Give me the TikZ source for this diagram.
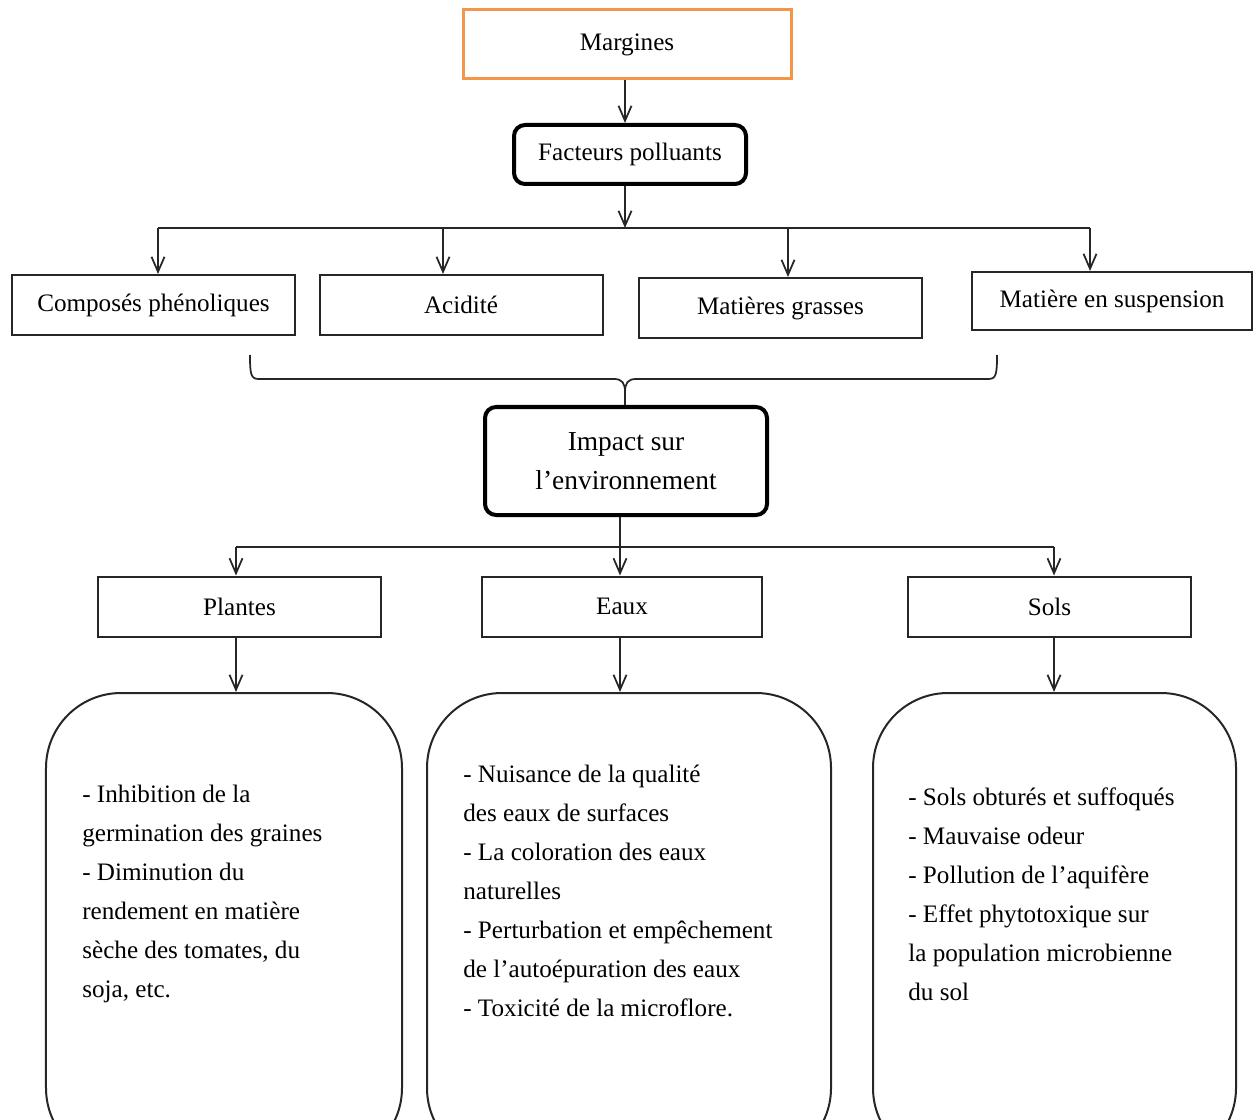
\documentclass[tikz,border=0pt]{standalone}
\usepackage{fontspec}
\setmainfont{Liberation Serif}
\usetikzlibrary{arrows.meta}
\definecolor{orng}{RGB}{244,150,72}
\begin{document}
\begin{tikzpicture}
[
 x=0.2mm, y=-0.2mm,
 font=\fontsize{14.3}{22.2}\selectfont,
 inner sep=0mm,
 ORBOX/.style={rectangle, draw=orng, line width=0.6mm, minimum width=65.6mm, minimum height=13.8mm},
 RBOX/.style={rectangle, rounded corners=2.2mm, draw=black, line width=0.8mm},
 BOX/.style={rectangle, draw=black!85, line width=0.4mm, minimum width=56.6mm, minimum height=12mm},
 BIGBOX/.style={rectangle, rounded corners=15mm, draw=black!85, line width=0.4mm, minimum height=94mm, anchor=north},
 TXT/.style={align=left, anchor=north west},
 ARR/.style={-{Straight Barb[length=3mm,width=2.6mm]}, line width=0.35mm, draw=black!85},
 LINE/.style={line width=0.35mm, draw=black!85},
 ]
\useasboundingbox (0,0) rectangle (1255,1119);
%
\node [ORBOX]  (MARG)  at ( 627, 44.5)  {Margines};
\node [RBOX, minimum width=46.4mm, minimum height=11.8mm, text depth=0.9mm]  (FACT)  at ( 630,154.5)  {Facteurs polluants};
%
\node [BOX]  (PHEN)  at ( 153.5,305)  {Composés phénoliques};
\node [BOX]  (ACID)  at ( 461,305)  {Acidité};
\node [BOX]  (GRAS)  at ( 780.5,308)  {Matières grasses};
\node [BOX, minimum width=56mm, minimum height=11.6mm]  (SUSP)  at ( 1112,301)  {Matière en suspension};
%
\node [RBOX, minimum width=56.4mm, minimum height=21.6mm, align=center,
       font=\fontsize{15.6}{22.2}\selectfont]  (IMPA)  at ( 626,461)  {Impact sur\\l’environnement};
%
\node [BOX]  (PLAN)  at ( 239.5,606.5)  {Plantes};
\node [BOX, minimum width=56mm]  (EAUX)  at ( 622,606.5)  {Eaux};
\node [BOX]  (SOLS)  at ( 1049.5,606.5)  {Sols};
%
\node [BIGBOX, minimum width=71.2mm]  (BPLA)  at ( 224,692)  {};
\node [BIGBOX, minimum width=80.8mm]  (BEAU)  at ( 629,692)  {};
\node [BIGBOX, minimum width=72.6mm]  (BSOL)  at ( 1054.5,692)  {};
%
\node [TXT]  (TPLA)  at ( 82,785)  {- Inhibition de la\\germination des graines\\- Diminution du\\rendement en matière\\sèche des tomates, du\\soja, etc.};
\node [TXT]  (TEAU)  at ( 463,765)  {- Nuisance de la qualité\\des eaux de surfaces\\- La coloration des eaux\\naturelles\\- Perturbation et empêchement\\de l’autoépuration des eaux\\- Toxicité de la microflore.};
\node [TXT]  (TSOL)  at ( 908,787)  {- Sols obturés et suffoqués\\- Mauvaise odeur\\- Pollution de l’aquifère\\- Effet phytotoxique sur\\la population microbienne\\du sol};
%
\coordinate (A0) at ( 625,0);
\coordinate (B1) at ( 625,228);
\coordinate (D1) at ( 158,228);
\coordinate (D2) at ( 443,228);
\coordinate (D3) at ( 788,228);
\coordinate (D4) at ( 1090,228);
%
\draw [ARR]  (MARG.south -| A0) -- (FACT.north -| A0) ;
\draw [ARR]  (FACT.south -| B1) -- (B1) ;
\draw [LINE]  (D1) -- (D4) ;
\foreach \d/\n in {D1/PHEN, D2/ACID, D3/GRAS, D4/SUSP}
   { \draw [ARR]  (\d) -- (\d |- \n.north) ; }
%
\coordinate (BL) at ( 250,355);
\coordinate (BR) at ( 997,355);
\coordinate (BT) at ( 625,392);
\draw [LINE]  (BL) .. controls (250,375) and (251,379) .. (259,379) -- (614,379) .. controls (622,379) and (625,383) .. (BT) ;
\draw [LINE]  (BR) .. controls (997,375) and (996,379) .. (988,379) -- (636,379) .. controls (628,379) and (625,383) .. (BT) ;
\draw [LINE]  (BT) -- (IMPA.north -| BT) ;
%
\coordinate (B2) at ( 620,547);
\coordinate (E1) at ( 236,547);
\coordinate (E3) at ( 1054,547);
\draw [LINE]  (IMPA.south -| B2) -- (B2) ;
\draw [LINE]  (E1) -- (E3) ;
\foreach \d/\n/\m in {E1/PLAN/BPLA, B2/EAUX/BEAU, E3/SOLS/BSOL}
   {
     \draw [ARR]  (\d) -- (\d |- \n.north) ;
     \draw [ARR]  (\n.south -| \d) -- (\m.north -| \d) ;
   }
%
\end{tikzpicture}
\end{document}
